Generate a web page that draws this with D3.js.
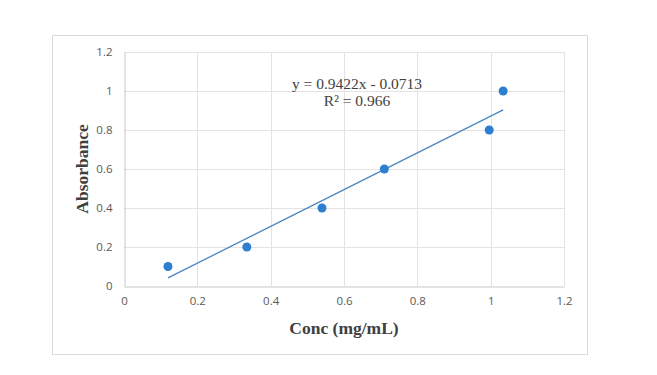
<!DOCTYPE html>
<meta charset="utf-8">
<head>
    <title>Calibration curve</title>
    <style>
        body { margin: 0; background: #fff; }
    </style>
</head>

<script src="https://d3js.org/d3.v7.min.js"></script>

<div id="dataVis"></div>

<script>

    // data
    var conc = [0.12, 0.335, 0.54, 0.71, 0.996, 1.034];
    var absorbance = [0.1, 0.2, 0.4, 0.6, 0.8, 1.0];
    var slope = 0.9422, intercept = -0.0713;
    var xTicks = [0, 0.2, 0.4, 0.6, 0.8, 1, 1.2];
    var yTicks = [0, 0.2, 0.4, 0.6, 0.8, 1, 1.2];

    var width = 657, height = 375;
    var plot = { left: 124, right: 564, top: 52, bottom: 286 };

    var svg = d3.select("#dataVis")
        .append("svg")
        .attr("width", width)
        .attr("height", height);

    // chart frame
    svg.append("rect")
        .attr("x", 52.5).attr("y", 35.5)
        .attr("width", 535).attr("height", 319)
        .attr("fill", "#fff")
        .attr("stroke", "#d9d9d9");

    var x = d3.scaleLinear().domain([0, 1.2]).range([plot.left, plot.right]);
    var y = d3.scaleLinear().domain([0, 1.2]).range([plot.bottom, plot.top]);

    // gridlines
    svg.append("g").selectAll("line")
        .data(yTicks.slice(1))
        .enter().append("line")
        .attr("x1", plot.left).attr("x2", plot.right)
        .attr("y1", function (d) { return Math.round(y(d)) + 0.5; })
        .attr("y2", function (d) { return Math.round(y(d)) + 0.5; })
        .attr("stroke", "#e3e3e3");

    svg.append("g").selectAll("line")
        .data(xTicks.slice(1))
        .enter().append("line")
        .attr("y1", plot.top).attr("y2", plot.bottom)
        .attr("x1", function (d) { return Math.round(x(d)) + 0.5; })
        .attr("x2", function (d) { return Math.round(x(d)) + 0.5; })
        .attr("stroke", "#e3e3e3");

    // axes
    var xAxis = svg.append("g")
        .attr("transform", "translate(0," + (plot.bottom + 0.5) + ")")
        .call(d3.axisBottom(x).tickValues(xTicks).tickSize(0).tickPadding(10)
            .tickFormat(function (d) { return String(d); }));
    var yAxis = svg.append("g")
        .attr("transform", "translate(" + (plot.left + 0.5) + ",0)")
        .call(d3.axisLeft(y).tickValues(yTicks).tickSize(0).tickPadding(12)
            .tickFormat(function (d) { return String(d); }));

    [xAxis, yAxis].forEach(function (a) {
        a.select(".domain").attr("stroke", "#c8c8c8");
        a.selectAll("text")
            .attr("fill", "#595959")
            .style("font-family", "'Open Sans', sans-serif")
            .style("font-size", "11.5px");
    });

    // trendline
    var xs = d3.extent(conc);
    svg.append("line")
        .attr("x1", x(xs[0])).attr("y1", y(slope * xs[0] + intercept))
        .attr("x2", x(xs[1])).attr("y2", y(slope * xs[1] + intercept))
        .attr("stroke", "#4a86c0")
        .attr("stroke-width", 1.3);

    // points
    svg.append("g").selectAll("circle")
        .data(conc)
        .enter().append("circle")
        .attr("cx", function (d) { return x(d); })
        .attr("cy", function (d, i) { return y(absorbance[i]); })
        .attr("r", 4.5)
        .attr("fill", "#2f7fd0");

    // equation
    var eq = svg.append("text")
        .attr("text-anchor", "middle")
        .attr("fill", "#404040")
        .style("font-family", "'Liberation Serif', serif")
        .style("font-size", "15.5px");
    eq.append("tspan").attr("x", 357).attr("y", 89)
        .text("y = " + slope + "x - " + Math.abs(intercept));
    eq.append("tspan").attr("x", 357).attr("y", 106)
        .text("R\u00b2 = 0.966");

    // axis titles
    svg.append("text")
        .attr("x", 344).attr("y", 334)
        .attr("text-anchor", "middle")
        .attr("fill", "#404040")
        .style("font-family", "'Liberation Serif', serif")
        .style("font-weight", "bold")
        .style("font-size", "17.5px")
        .text("Conc (mg/mL)");

    svg.append("text")
        .attr("transform", "translate(88,169) rotate(-90)")
        .attr("text-anchor", "middle")
        .attr("fill", "#404040")
        .style("font-family", "'Liberation Serif', serif")
        .style("font-weight", "bold")
        .style("font-size", "17.5px")
        .text("Absorbance");

</script>
